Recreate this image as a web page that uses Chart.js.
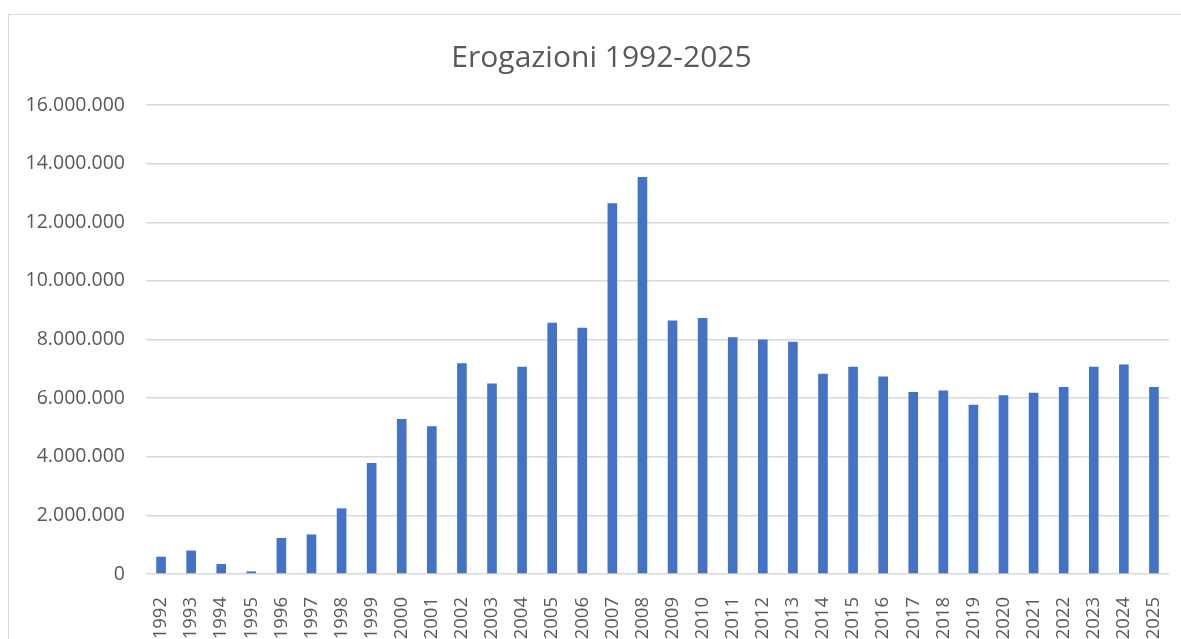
<!DOCTYPE html>
<html lang="it">
<head>
<meta charset="utf-8">
<title>Erogazioni 1992-2025</title>
<script src="https://cdn.jsdelivr.net/npm/chart.js@4.4.1/dist/chart.umd.min.js"></script>
<style>
    html, body {
        margin: 0;
        padding: 0;
        background: #fff;
        overflow: hidden;
        width: 1181px;
        height: 639px;
    }
    /* Excel-like chart frame, it runs past the right and bottom edge */
    .frame {
        position: absolute;
        left: 8px;
        top: 14px;
        width: 1300px;
        height: 700px;
        border: 1px solid #d9d9d9;
    }
    #chart {
        position: absolute;
        left: 0;
        top: 0;
    }
</style>
</head>
<body>
<div class="frame"></div>
<canvas id="chart" width="1203" height="639"></canvas>

<script>
// Data
const years = [
    '1992', '1993', '1994', '1995', '1996', '1997', '1998', '1999', '2000', '2001',
    '2002', '2003', '2004', '2005', '2006', '2007', '2008', '2009', '2010', '2011',
    '2012', '2013', '2014', '2015', '2016', '2017', '2018', '2019', '2020', '2021',
    '2022', '2023', '2024', '2025'
];
const erogazioni = [
    590000, 800000, 340000, 90000, 1230000, 1350000, 2240000, 3790000, 5290000, 5040000,
    7190000, 6500000, 7070000, 8570000, 8400000, 12650000, 13540000, 8650000, 8730000, 8080000,
    8000000, 7920000, 6830000, 7070000, 6740000, 6210000, 6260000, 5770000, 6100000, 6180000,
    6380000, 7070000, 7150000, 6380000
];
const yTicks = [0, 2000000, 4000000, 6000000, 8000000, 10000000, 12000000, 14000000, 16000000];
const chartTitle = 'Erogazioni 1992-2025';

const TEXT = '#595959';
const GRID = '#d9d9d9';
const BAR = '#4472c4';
const FONT = "'Open Sans', 'Liberation Sans', sans-serif";

// 16000000 -> 16.000.000
function formatIt(value) {
    return String(Math.round(value)).replace(/\B(?=(\d{3})+(?!\d))/g, '.');
}

// Title centred on the Excel frame rather than on the plot area
const frameTitle = {
    id: 'frameTitle',
    afterDraw(chart) {
        const c = chart.ctx;
        c.save();
        c.fillStyle = TEXT;
        c.font = '30px ' + FONT;
        c.textAlign = 'center';
        c.textBaseline = 'middle';
        c.fillText(chartTitle, 601.5, 58);
        c.restore();
    }
};

const ctx = document.getElementById('chart').getContext('2d');

new Chart(ctx, {
    type: 'bar',
    data: {
        labels: years,
        datasets: [{
            label: 'Erogazioni',
            data: erogazioni,
            backgroundColor: BAR,
            borderWidth: 0,
            barPercentage: 0.32,
            categoryPercentage: 1
        }]
    },
    plugins: [frameTitle],
    options: {
        responsive: false,
        devicePixelRatio: 1,
        animation: false,
        layout: {
            padding: { left: 0, right: 34, top: 105, bottom: 0 }
        },
        plugins: {
            legend: { display: false },
            tooltip: { enabled: false },
            title: { display: false }
        },
        scales: {
            x: {
                grid: { display: false },
                border: { display: false },
                ticks: {
                    color: TEXT,
                    font: { family: FONT, size: 18.5 },
                    minRotation: 90,
                    maxRotation: 90,
                    autoSkip: false,
                    padding: 15
                },
                afterFit: function(scale) {
                    scale.height = 65;
                }
            },
            y: {
                min: 0,
                max: 16000000,
                grid: {
                    color: GRID,
                    lineWidth: 1.5,
                    drawTicks: false
                },
                border: { display: false },
                afterBuildTicks: function(scale) {
                    scale.ticks = yTicks.map(v => ({ value: v }));
                },
                ticks: {
                    color: TEXT,
                    font: { family: FONT, size: 19.5 },
                    padding: 21,
                    callback: function(value) {
                        return formatIt(value);
                    }
                },
                afterFit: function(scale) {
                    scale.width = 146;
                }
            }
        }
    }
});
</script>
</body>
</html>
